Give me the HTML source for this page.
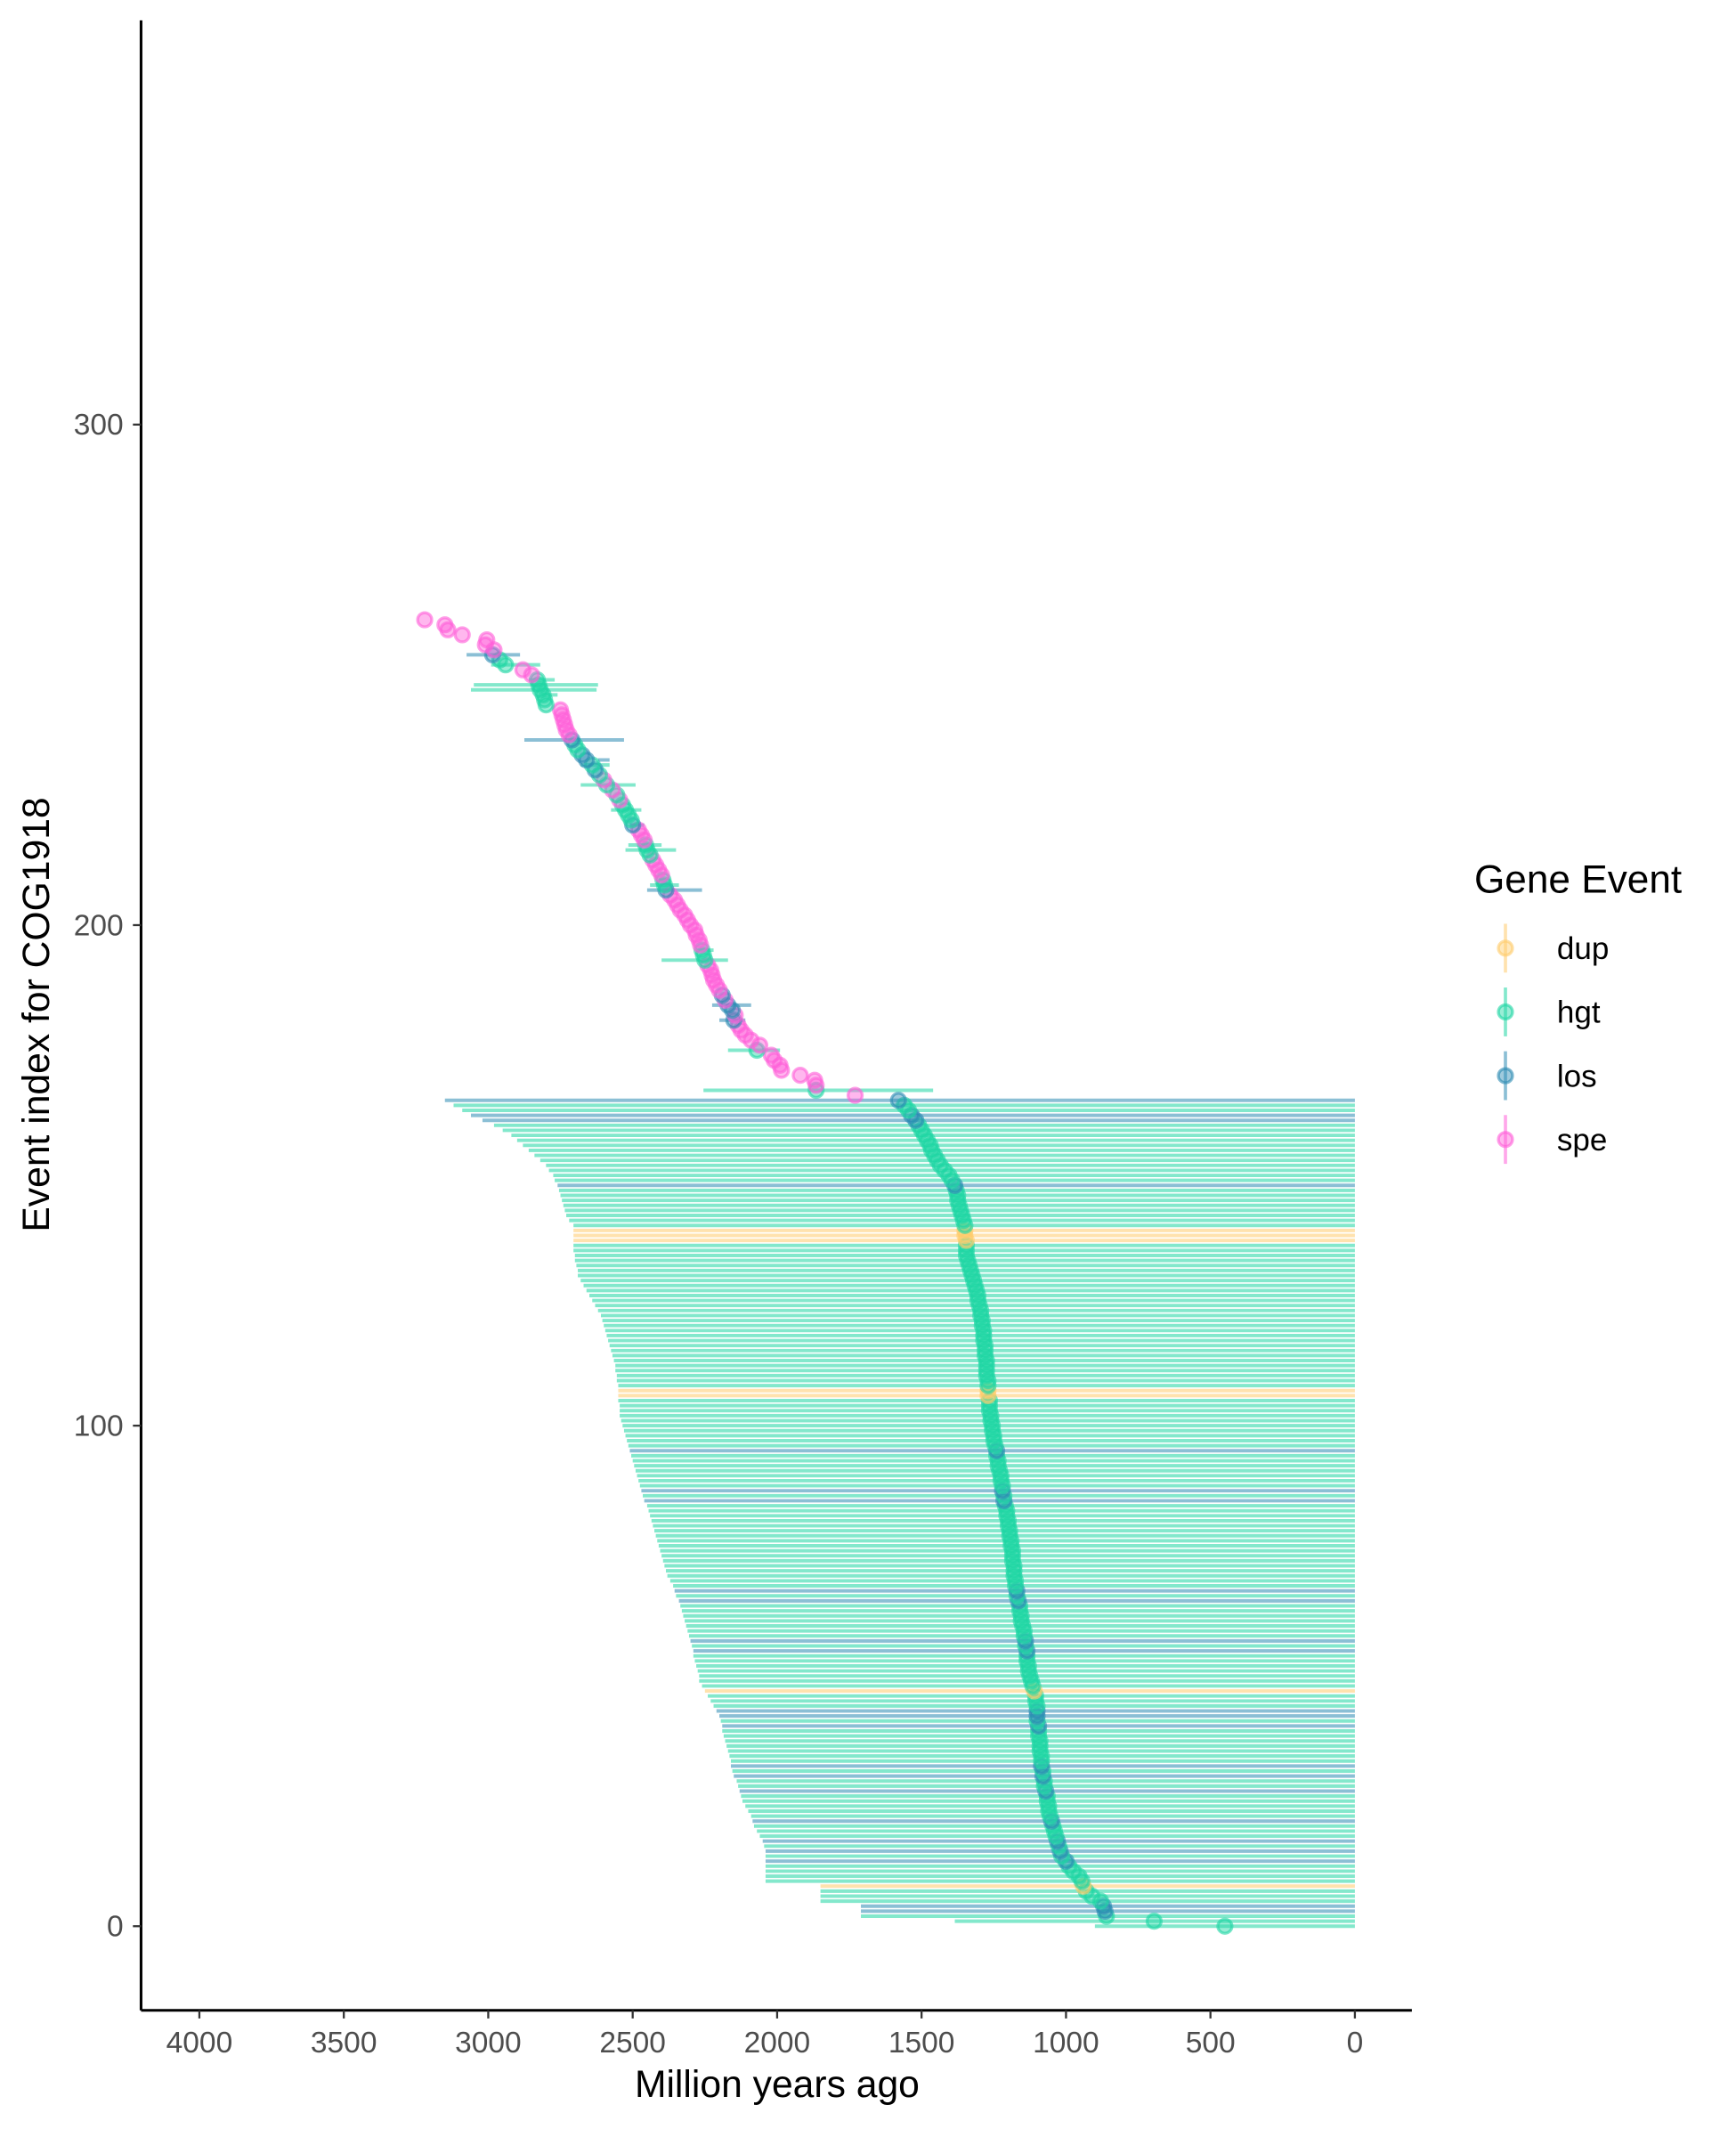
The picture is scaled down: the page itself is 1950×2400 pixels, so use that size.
<!DOCTYPE html>
<html><head><meta charset="utf-8"><style>
html,body{margin:0;padding:0;background:#fff}
svg{display:block}
text{font-family:"Liberation Sans",sans-serif}
</style></head><body>
<svg id="chart" width="1950" height="2400" viewBox="0 0 1280 1575.4" preserveAspectRatio="none" xmlns="http://www.w3.org/2000/svg">
<g id="bars"></g>
<g id="points"></g>
<line x1="104" y1="15" x2="104" y2="1482" stroke="#000" stroke-width="2"/>
<line x1="104" y1="1482" x2="1041" y2="1482" stroke="#000" stroke-width="2"/>
<g id="yticks"></g>
<g id="xticks"></g>
<text x="573" y="1546" font-size="28" text-anchor="middle" fill="#000">Million years ago</text>
<text transform="translate(36,748) rotate(-90)" font-size="28" text-anchor="middle" fill="#000">Event index for COG1918</text>
<g id="legend">
<text x="1087" y="658" font-size="29" fill="#000">Gene Event</text>
</g>
</svg>
<script>
const lowT=[450,695,860,865,870,880,910,930,940,945,955,975,990,1000,1015,1020,1025,1030,1035,1040,1045,1050,1055,1060,1060,1065,1065,1070,1075,1075,1080,1080,1085,1085,1085,1090,1090,1090,1095,1095,1095,1100,1100,1100,1100,1105,1105,1110,1115,1120,1125,1130,1130,1135,1135,1135,1140,1140,1145,1145,1150,1155,1155,1160,1160,1165,1170,1170,1175,1175,1180,1180,1180,1185,1185,1185,1190,1190,1195,1195,1200,1200,1205,1205,1210,1215,1215,1220,1220,1225,1225,1230,1235,1235,1240,1240,1245,1250,1250,1255,1255,1260,1260,1265,1265,1265,1270,1270,1270,1270,1275,1275,1275,1275,1280,1280,1280,1285,1285,1285,1290,1290,1295,1295,1300,1305,1305,1310,1315,1320,1325,1330,1335,1340,1345,1345,1345,1345,1350,1350,1350,1355,1360,1365,1370,1375,1375,1380,1385,1395,1405,1420,1435,1445,1455,1465,1470,1480,1490,1500,1510,1520,1535,1545,1560,1580];
const lowLo=[900,1385,1710,1710,1710,1850,1850,1850,1850,2040,2040,2040,2040,2040,2040,2040,2045,2050,2060,2070,2080,2085,2090,2100,2110,2120,2125,2130,2135,2140,2150,2155,2160,2160,2165,2170,2175,2180,2185,2190,2190,2195,2200,2210,2220,2230,2240,2250,2260,2270,2270,2275,2280,2285,2290,2290,2295,2300,2305,2310,2315,2320,2325,2330,2335,2340,2350,2355,2360,2370,2380,2385,2390,2395,2400,2405,2410,2415,2420,2425,2430,2435,2440,2445,2450,2460,2465,2470,2475,2480,2485,2490,2495,2500,2505,2510,2515,2520,2525,2530,2535,2540,2545,2545,2545,2550,2550,2550,2550,2555,2555,2560,2560,2565,2570,2575,2580,2585,2590,2595,2600,2605,2610,2620,2630,2640,2650,2660,2670,2680,2690,2690,2695,2700,2700,2705,2705,2705,2705,2705,2705,2720,2730,2735,2740,2745,2750,2755,2760,2770,2775,2790,2800,2820,2840,2860,2880,2900,2920,2950,2980,3020,3060,3090,3120,3150];
const losIdx=[3,4,13,15,17,21,27,30,32,40,42,43,55,57,65,67,85,87,95,148,161,162,165];
const dupIdx=[8,47,106,107,137,138,139];
const upT=[1730,1865,1865,1870,1920,1985,1990,2010,2020,2070,2060,2090,2110,2125,2135,2150,2145,2155,2170,2180,2190,2200,2210,2220,2225,2230,2240,2250,2255,2260,2265,2270,2280,2285,2300,2310,2320,2335,2345,2355,2370,2385,2390,2395,2400,2410,2420,2430,2440,2450,2455,2460,2470,2480,2500,2505,2515,2525,2535,2545,2555,2570,2590,2600,2615,2630,2640,2660,2675,2690,2700,2710,2720,2730,2735,2740,2745,2750,2800,2805,2810,2820,2825,2830,2850,2880,2940,2960,2985,2980,3010,3005,3090,3140,3150,3220];
const upType=["spe","hgt","spe","spe","spe","spe","spe","spe","spe","hgt","spe","spe","spe","spe","spe","los","spe","los","los","spe","los","spe","spe","spe","spe","spe","spe","hgt","hgt","hgt","spe","spe","spe","spe","spe","spe","spe","spe","spe","spe","spe","los","hgt","hgt","spe","spe","spe","spe","hgt","hgt","hgt","spe","spe","spe","los","hgt","hgt","hgt","hgt","spe","hgt","spe","hgt","spe","hgt","los","hgt","los","los","hgt","hgt","los","spe","spe","spe","spe","spe","spe","hgt","hgt","hgt","hgt","hgt","hgt","spe","spe","hgt","hgt","los","spe","spe","spe","spe","spe","spe","spe"];
const upLo=[null,2255,null,null,null,null,null,null,null,2170,null,null,null,null,null,2200,null,null,2225,null,null,null,null,null,null,null,null,2400,null,2280,null,null,null,null,null,null,null,null,null,null,null,2450,2440,2410,null,null,null,null,null,2525,2515,null,null,null,2510,null,null,2575,null,null,null,null,2680,null,null,null,2680,2620,null,null,null,2875,null,null,null,null,null,null,null,null,2815,3060,3050,2860,null,null,2990,null,3075,null,null,null,null,null,null,null];
const upHi=[null,1460,null,null,null,null,null,null,null,1990,null,null,null,null,null,2110,null,null,2090,null,null,null,null,null,null,null,null,2170,null,2220,null,null,null,null,null,null,null,null,null,null,null,2260,2340,2380,null,null,null,null,null,2350,2400,null,null,null,2460,null,null,2470,null,null,null,null,2490,null,null,null,2580,2580,null,null,null,2530,null,null,null,null,null,null,null,null,2760,2625,2620,2770,null,null,2820,null,2890,null,null,null,null,null,null,null];

const colors={dup:"#FFCB6B",hgt:"#1ED6A3",los:"#2B8AB3",spe:"#FF5FD9"};
const xs=t=>999-t*0.213;
const ys=i=>1420-i*3.69;
const NS="http://www.w3.org/2000/svg";
function mk(tag,attrs,parent){const e=document.createElementNS(NS,tag);for(const k in attrs)e.setAttribute(k,attrs[k]);parent.appendChild(e);return e;}
const bars=document.getElementById('bars'),pts=document.getElementById('points');
const events=[];
lowT.forEach((t,i)=>{let ty=losIdx.includes(i)?"los":(dupIdx.includes(i)?"dup":"hgt");events.push({t:t,ty:ty,lo:lowLo[i],hi:0});});
upT.forEach((t,j)=>{events.push({t:t,ty:upType[j],lo:upLo[j],hi:upHi[j]});});
events.forEach((e,i)=>{
  if(e.lo!==null){
    const l=mk('line',{x1:xs(e.lo),x2:xs(e.hi),y1:ys(i),y2:ys(i),stroke:colors[e.ty],'stroke-width':2.6,'stroke-opacity':0.55},bars);
    
    
  }
});
events.forEach((e,i)=>{
  const c=mk('circle',{cx:xs(e.t),cy:ys(i),r:5.2,fill:colors[e.ty],'fill-opacity':0.45,stroke:colors[e.ty],'stroke-opacity':0.6,'stroke-width':2.2},pts);
  
  
});
const yTicks=[0,100,200,300];
const yt=document.getElementById('yticks');
yTicks.forEach(v=>{
  const l=mk('line',{x1:98,x2:104,y1:ys(v),y2:ys(v),stroke:'#333','stroke-width':1.5},yt);
  
  
  const t=mk('text',{x:91,y:ys(v)+7.5,'font-size':22,'text-anchor':'end',fill:'#4d4d4d'},yt);
  t.textContent=v;
  
  
});
const xTicks=[4000,3500,3000,2500,2000,1500,1000,500,0];
const xt=document.getElementById('xticks');
xTicks.forEach(v=>{
  const l=mk('line',{x1:xs(v),x2:xs(v),y1:1482,y2:1488,stroke:'#333','stroke-width':1.5},xt);
  
  
  const t=mk('text',{x:xs(v),y:1513,'font-size':22,'text-anchor':'middle',fill:'#4d4d4d'},xt);
  t.textContent=v;
  
  
});
const legKeys=["dup","hgt","los","spe"];
const lg=document.getElementById('legend');
legKeys.forEach((k,i)=>{
  const y=699+i*47;
  const g=mk('g',{},lg);
  
  
  mk('line',{x1:1110,x2:1110,y1:y-18,y2:y+18,stroke:colors[k],'stroke-width':2.4,'stroke-opacity':0.55},g);
  mk('circle',{cx:1110,cy:y,r:5.2,fill:colors[k],'fill-opacity':0.45,stroke:colors[k],'stroke-opacity':0.6,'stroke-width':2.2},g);
  const t=mk('text',{x:1148,y:y+8,'font-size':23,fill:'#000'},g);
  t.textContent=k;
});
</script>
</body></html>
